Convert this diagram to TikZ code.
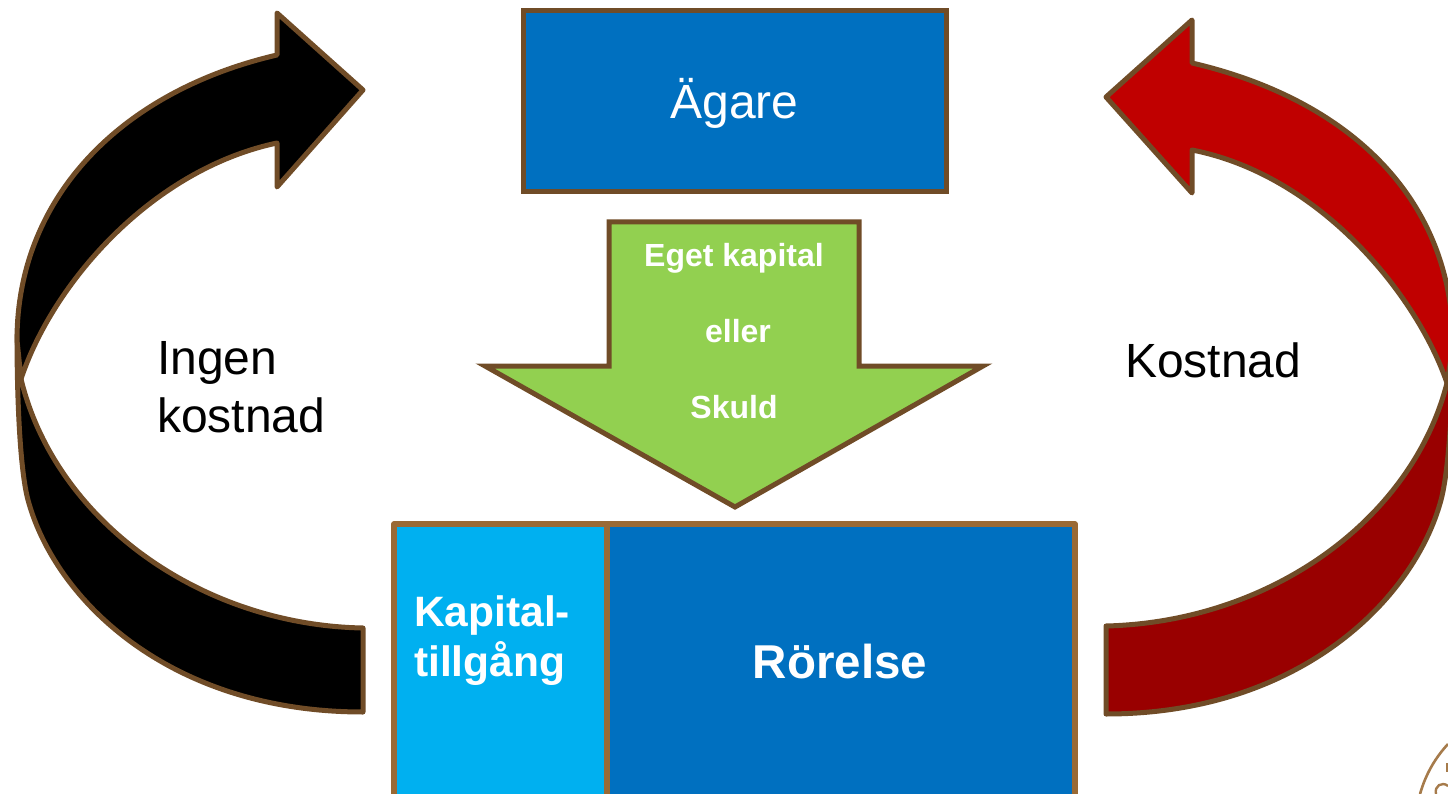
\documentclass[tikz,border=0pt]{standalone}
\usepackage{fontspec}
\setmainfont{Liberation Sans}
\definecolor{edgebrown}{HTML}{704C27}
\definecolor{boxedge}{HTML}{9A6A35}
\definecolor{sealbrown}{HTML}{A67B4B}
\definecolor{boxblue}{HTML}{0070C0}
\definecolor{lightblue}{HTML}{00B0F0}
\definecolor{leafgreen}{HTML}{92D050}
\definecolor{redtop}{HTML}{C00000}
\definecolor{redlow}{HTML}{990000}
\tikzset{
  shapeline/.style={draw=edgebrown,line width=5pt,line join=round},
  sharpline/.style={draw=edgebrown,line width=5pt,line join=miter,miter limit=10},
  blockbox/.style={draw=boxedge,line width=5.4pt,line join=round,anchor=north west,inner sep=0pt,outer sep=0pt,text=white,align=center},
  plainlabel/.style={font=\fontsize{48}{58}\selectfont,text=black,align=left,anchor=north west,inner sep=0pt},
  greenlabel/.style={font=\fontsize{32}{36}\selectfont\bfseries,text=white,inner sep=0pt},
  boldlabel/.style={font=\fontsize{42.5}{50}\selectfont\bfseries,text=white,inner sep=0pt}
}
\begin{document}
\begin{tikzpicture}[x=1pt,y=-1pt]
\useasboundingbox (0,0) rectangle (1448,794);
% black curved arrow
\filldraw[shapeline,fill=black] (363,628) .. controls (200,625) and (55,520) .. (21,379)
  -- (17,335) .. controls (17,400) and (20,470) .. (28,500)
  .. controls (55,600) and (170,712) .. (363,712) -- cycle;
\filldraw[shapeline,fill=black] (21,379) .. controls (52,285) and (150,170) .. (277,143)
  -- (277,187) -- (363,90) -- (277,13) -- (277,55)
  .. controls (118,92) and (17,200) .. (17,340) -- cycle;
% red curved arrow
\filldraw[shapeline,fill=redlow] (1106,626) .. controls (1270,622) and (1412,520) .. (1447,383)
  -- (1453,340) .. controls (1453,400) and (1449,470) .. (1441,500)
  .. controls (1414,600) and (1299,714) .. (1106,714) -- cycle;
\filldraw[shapeline,fill=redtop] (1447,383) .. controls (1417,295) and (1320,175) .. (1192,150)
  -- (1192,193) -- (1106,97) -- (1192,20) -- (1192,63)
  .. controls (1351,100) and (1453,200) .. (1453,345) -- cycle;
% boxes
\node[blockbox,draw=edgebrown,line width=5pt,line join=miter,fill=boxblue,minimum width=423pt,minimum height=181pt] (owner) at (523,11) {};
\node[inner sep=0pt,text=white,font=\fontsize{48}{58}\selectfont] (ownertext) at (734.5,103) {Ägare};
\filldraw[sharpline,fill=leafgreen] (609,222) -- (859,222) -- (859,366) -- (983,366) -- (735,507) -- (485,366) -- (609,366) -- cycle;
\node[greenlabel] (equity) at (734,258) {Eget kapital};
\node[greenlabel] (or) at (738,331) {eller};
\node[greenlabel] (debt) at (734,407) {Skuld};
\node[blockbox,fill=lightblue,minimum width=213pt,minimum height=290pt] (capital) at (394,524) {};
\node[blockbox,fill=boxblue,minimum width=468pt,minimum height=290pt] (ops) at (607,524) {};
\node[boldlabel,align=left,anchor=west] (capitaltext) at (414,641) {Kapital-\\tillgång};
\node[boldlabel,font=\fontsize{47.5}{52}\selectfont\bfseries] (opstext) at (840,662) {Rörelse};
% labels
\node[plainlabel] (free) at (157,341) {Ingen\\kostnad};
\node[plainlabel] (cost) at (1125,343) {Kostnad};
% seal fragment
\draw[sealbrown,line width=2.6pt] (1420,794) .. controls (1426,773) and (1436,757) .. (1448,744);
\draw[sealbrown,line width=2.4pt] (1436,794) .. controls (1434,786) and (1442,781) .. (1448,786);
\draw[sealbrown,line width=2pt] (1447,763) -- (1447,772);
\end{tikzpicture}
\end{document}
